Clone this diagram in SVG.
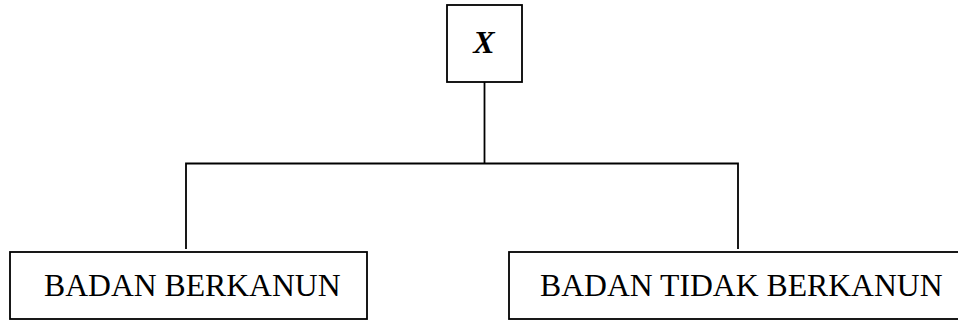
<svg xmlns="http://www.w3.org/2000/svg" width="958" height="320" viewBox="0 0 958 320">
<style>
.box{fill:#fff;stroke:#000;stroke-width:1.8}
.ln{fill:none;stroke:#000;stroke-width:1.8}
.t{font-family:"Liberation Serif","Times New Roman",serif;font-size:31.7px;fill:#000}
</style>
<rect width="958" height="320" fill="#fff"/>
<g id="connectors">
<line class="ln" x1="484.5" y1="82" x2="484.5" y2="163.5"/>
<polyline class="ln" points="186,249 186,163.5 738,163.5 738,249"/>
</g>
<g id="node-x">
<rect class="box" x="447" y="5" width="75" height="77"/>
<text class="t" x="484" y="53" text-anchor="middle" font-weight="bold" font-style="italic" style="font-size:32px">X</text>
</g>
<g id="node-berkanun">
<rect class="box" x="10" y="252" width="357" height="67"/>
<text class="t" x="44" y="296">BADAN BERKANUN</text>
</g>
<g id="node-tidak-berkanun">
<rect class="box" x="509" y="252" width="455" height="67"/>
<text class="t" x="540" y="296">BADAN TIDAK BERKANUN</text>
</g>
</svg>
